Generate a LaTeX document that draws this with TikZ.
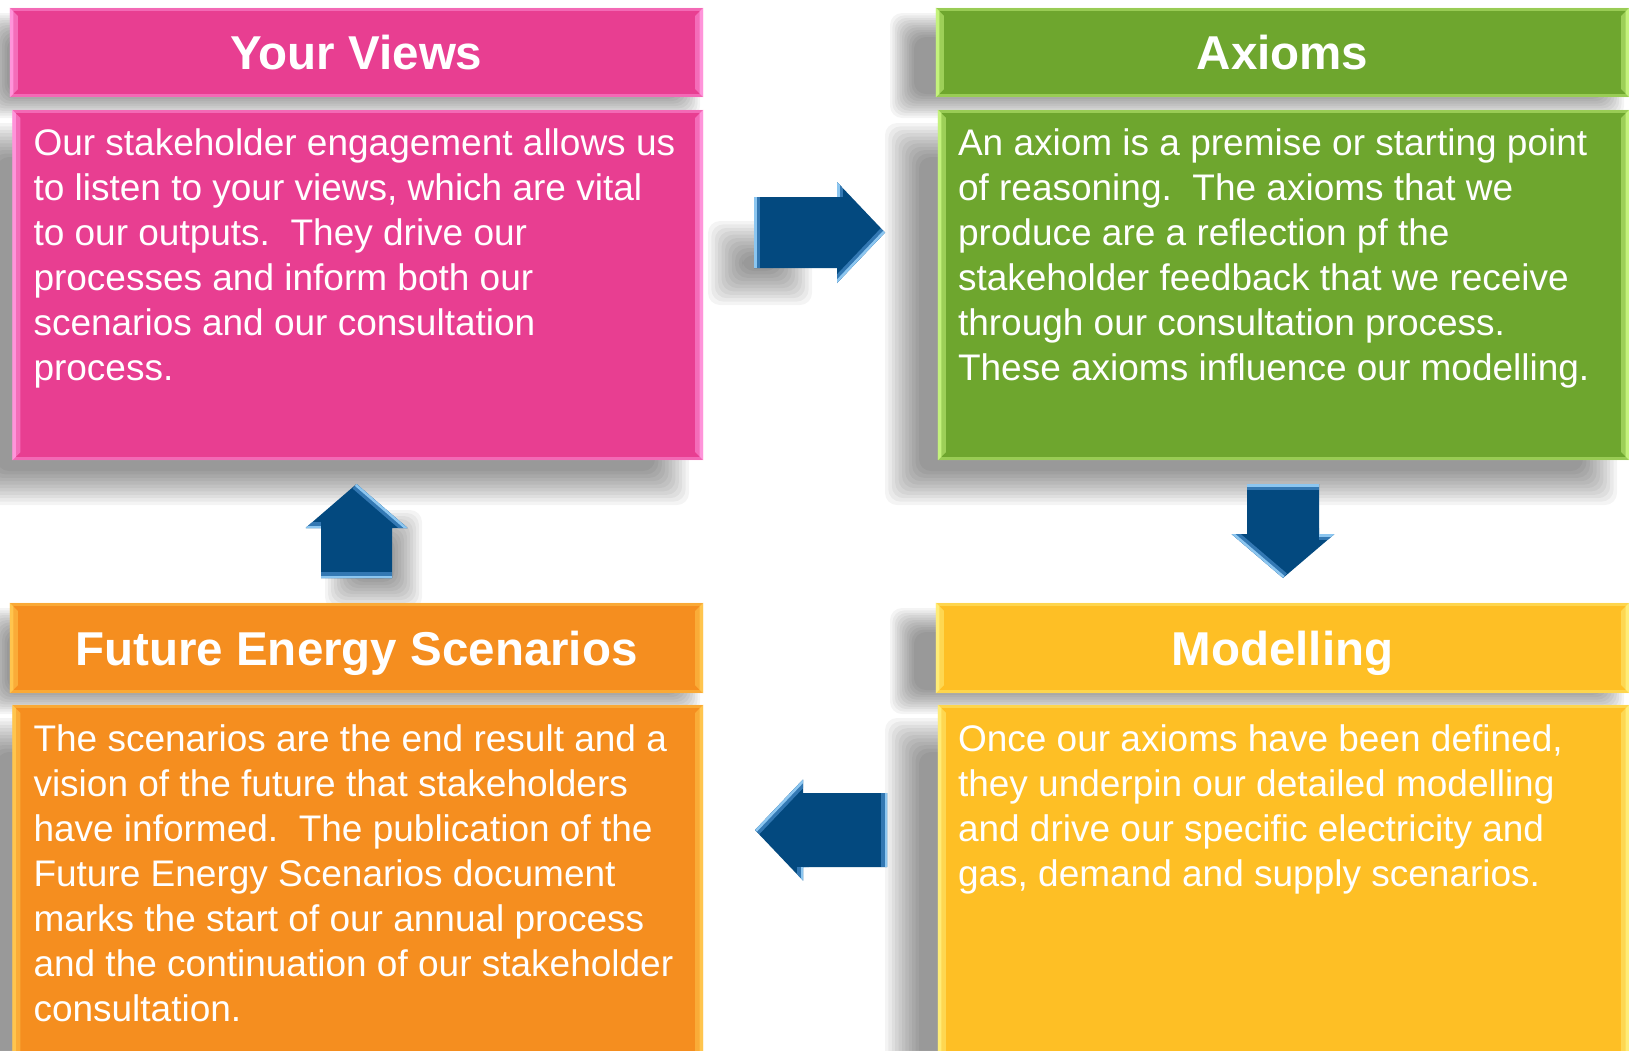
\documentclass[tikz,border=0pt]{standalone}
\usepackage{fontspec}
\setmainfont{Liberation Sans}
\usetikzlibrary{calc}

\definecolor{viewsfill}{HTML}{E83E91}
\definecolor{viewslight}{HTML}{FF94DA}
\definecolor{axiomfill}{HTML}{6EA62E}
\definecolor{axiomlight}{HTML}{C4F27C}
\definecolor{fesfill}{HTML}{F58E1F}
\definecolor{feslight}{HTML}{FFC54E}
\definecolor{modfill}{HTML}{FEBF25}
\definecolor{modlight}{HTML}{FFEC76}
\definecolor{arrowblue}{HTML}{03497F}
\definecolor{arrowmid}{HTML}{3F84C0}
\definecolor{arrowhi}{HTML}{8CC6F0}

\tikzset{
  panel/.style={rectangle, fill=#1, draw=none, inner sep=0pt},
  titlebar/.style={panel=#1, text=white,
    font=\bfseries\fontsize{47.5}{57}\selectfont,
    text height=34pt, text depth=0pt},
  bodytext/.style={text=white, font=\fontsize{37}{45}\selectfont,
    inner sep=0pt, anchor=base west},
  bevelstroke/.style={draw=#1, line cap=butt},
}

% soft drop shadow: stacked translucent rectangles around (x1,y1)-(x2,y2), spread r
\newcommand\softshadow[5]{%
  \foreach \k in {0,...,10}{%
    \pgfmathsetmacro\xa{#1-#5*(1-\k/5)}%
    \pgfmathsetmacro\ya{#2-#5*(1-\k/5)}%
    \pgfmathsetmacro\xb{#3+#5*(1-\k/5)}%
    \pgfmathsetmacro\yb{#4+#5*(1-\k/5)}%
    \fill[black,opacity=0.045,rounded corners=12pt]
      (\xa,\ya) rectangle (\xb,\yb);
  }}

% light bevel along the edges of a panel node
\newcommand\panelbevel[2]{%
  \fill[#2,opacity=0.55] (#1.north west) -- ($(#1.north west)+(8,8)$)
    -- ($(#1.south west)+(8,-8)$) -- (#1.south west) -- cycle;
  \fill[#2] (#1.north west) -- ($(#1.north west)+(3.5,3.5)$)
    -- ($(#1.south west)+(3.5,-3.5)$) -- (#1.south west) -- cycle;
  \fill[#2,opacity=0.55] (#1.north east) -- ($(#1.north east)+(-8,8)$)
    -- ($(#1.south east)+(-8,-8)$) -- (#1.south east) -- cycle;
  \fill[#2] (#1.north east) -- ($(#1.north east)+(-3.5,3.5)$)
    -- ($(#1.south east)+(-3.5,-3.5)$) -- (#1.south east) -- cycle;
  \fill[#2,opacity=0.5] (#1.north west) -- (#1.north east)
    -- ($(#1.north east)+(-3,3)$) -- ($(#1.north west)+(3,3)$) -- cycle;
  \fill[#2,opacity=0.5] (#1.south west) -- (#1.south east)
    -- ($(#1.south east)+(-3,-3)$) -- ($(#1.south west)+(3,-3)$) -- cycle;
}

% bevelled block arrow: tail at (#1,#2), direction #3, length #4,
% head length #5, shaft half width #6, head half width #7
\newcommand\blockarrow[7]{%
  \pgfmathsetmacro\hb{#4-#5}%
  \begin{scope}[shift={(#1,#2)},rotate=#3]
    \fill[arrowblue] (0,-#6) -- (\hb,-#6) -- (\hb,-#7) -- (#4,0)
      -- (\hb,#7) -- (\hb,#6) -- (0,#6) -- cycle;
    \begin{scope}
      \clip (0,-#6) -- (\hb,-#6) -- (\hb,-#7) -- (#4,0)
        -- (\hb,#7) -- (\hb,#6) -- (0,#6) -- cycle;
      \draw[bevelstroke=arrowmid,line width=12pt,opacity=0.8] (0,-#6) -- (0,#6);
      \draw[bevelstroke=arrowmid,line width=12pt,opacity=0.8] (\hb,-#7) -- (\hb,-#6);
      \draw[bevelstroke=arrowmid,line width=12pt,opacity=0.8] (#4,0) -- (\hb,#7);
      \draw[bevelstroke=arrowhi,line width=5pt] (0,-#6) -- (0,#6);
      \draw[bevelstroke=arrowhi,line width=5pt] (\hb,-#7) -- (\hb,-#6);
      \draw[bevelstroke=arrowhi,line width=5pt] (#4,0) -- (\hb,#7);
    \end{scope}
  \end{scope}}

\begin{document}
\begin{tikzpicture}[x=1pt,y=-1pt]
  \useasboundingbox (0,0) rectangle (1629,1050);
  \clip (0,0) rectangle (1629,1050);
  \fill[white] (0,0) rectangle (1629,1050);

  % shadows under the panels and arrows
  \softshadow{-5}{25}{688}{106}{12}
  \softshadow{-20}{140}{672}{488}{17}
  \softshadow{902}{25}{1612}{106}{12}
  \softshadow{902}{140}{1600}{488}{17}
  \softshadow{-5}{620}{688}{702}{12}
  \softshadow{-20}{735}{672}{1100}{17}
  \softshadow{902}{620}{1612}{702}{12}
  \softshadow{902}{735}{1600}{1100}{17}
  \softshadow{725}{238}{795}{288}{17}
  \softshadow{340}{525}{407}{594}{15}

  % Your Views
  \node[titlebar=viewsfill, minimum width=693pt, minimum height=89pt]
    (viewsT) at (356.5,52.5) {Your Views};
  \node[panel=viewsfill, minimum width=690.5pt, minimum height=350pt]
    (viewsB) at (357.75,285) {};
  \panelbevel{viewsT}{viewslight}
  \panelbevel{viewsB}{viewslight}
  \node[bodytext] (viewsTxt) at ($(viewsB.north west)+(21,46)$)
    {\parbox[t]{700pt}{\raggedright
     Our stakeholder engagement allows us\\
     to listen to your views, which are vital\\
     to our outputs.\ \ They drive our\\
     processes and inform both our\\
     scenarios and our consultation\\
     process.}};

  % Axioms
  \node[titlebar=axiomfill, minimum width=693pt, minimum height=89pt]
    (axiomsT) at (1282.5,52.5) {Axioms};
  \node[panel=axiomfill, minimum width=691pt, minimum height=350pt]
    (axiomsB) at (1283.5,285) {};
  \panelbevel{axiomsT}{axiomlight}
  \panelbevel{axiomsB}{axiomlight}
  \node[bodytext] (axiomsTxt) at ($(axiomsB.north west)+(20,46)$)
    {\parbox[t]{700pt}{\raggedright
     An axiom is a premise or starting point\\
     of reasoning.\ \ The axioms that we\\
     produce are a reflection pf the\\
     stakeholder feedback that we receive\\
     through our consultation process.\\
     These axioms influence our modelling.}};

  % Future Energy Scenarios
  \node[titlebar=fesfill, minimum width=693pt, minimum height=90pt]
    (fesT) at (356.5,648) {Future Energy Scenarios};
  \node[panel=fesfill, minimum width=690.5pt, minimum height=357pt]
    (fesB) at (357.75,883.5) {};
  \panelbevel{fesT}{feslight}
  \panelbevel{fesB}{feslight}
  \node[bodytext] (fesTxt) at ($(fesB.north west)+(21,47)$)
    {\parbox[t]{700pt}{\raggedright
     The scenarios are the end result and a\\
     vision of the future that stakeholders\\
     have informed.\ \ The publication of the\\
     Future Energy Scenarios document\\
     marks the start of our annual process\\
     and the continuation of our stakeholder\\
     consultation.}};

  % Modelling
  \node[titlebar=modfill, minimum width=693pt, minimum height=90pt]
    (modT) at (1282.5,648) {Modelling};
  \node[panel=modfill, minimum width=691pt, minimum height=357pt]
    (modB) at (1283.5,883.5) {};
  \panelbevel{modT}{modlight}
  \panelbevel{modB}{modlight}
  \node[bodytext] (modTxt) at ($(modB.north west)+(20,47)$)
    {\parbox[t]{700pt}{\raggedright
     Once our axioms have been defined,\\
     they underpin our detailed modelling\\
     and drive our specific electricity and\\
     gas, demand and supply scenarios.}};

  % cycle arrows between the panels
  \blockarrow{754}{232.5}{0}{131}{48}{35.5}{50.5}
  \blockarrow{1283}{484}{-90}{94}{44}{36}{51.5}
  \blockarrow{887}{830}{180}{132}{48}{37}{50.5}
  \blockarrow{356.5}{578}{90}{94}{44}{35.5}{51}
\end{tikzpicture}
\end{document}
